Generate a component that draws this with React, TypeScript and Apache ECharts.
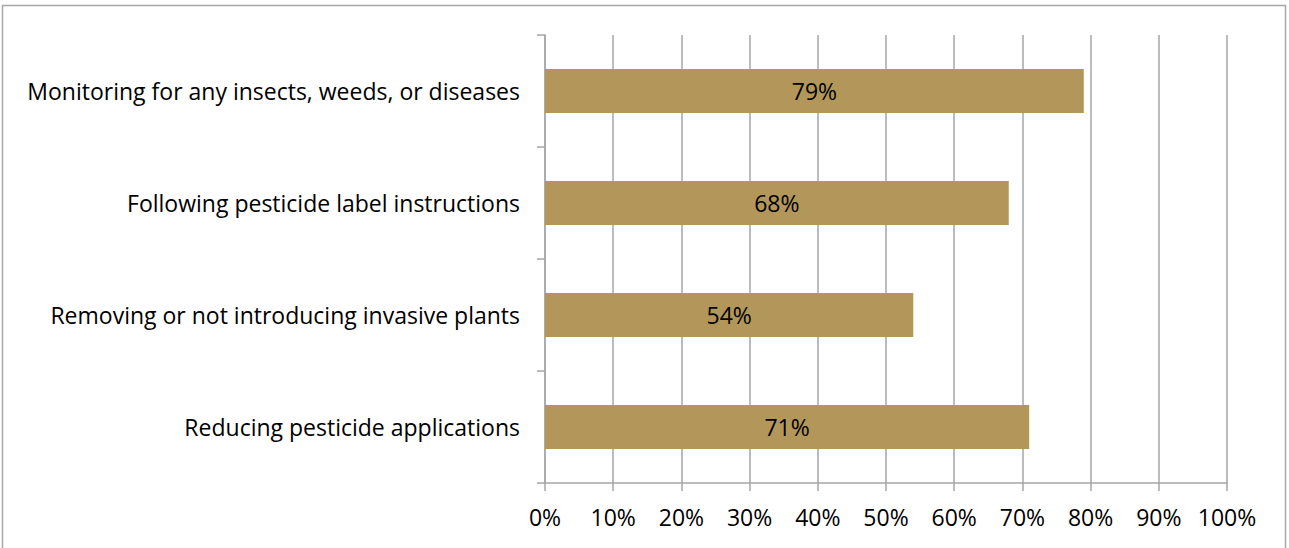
import React, { useEffect, useRef } from "react";
import * as echarts from "echarts";

const categories = [
  "Monitoring for any insects, weeds, or diseases",
  "Following pesticide label instructions",
  "Removing or not introducing invasive plants",
  "Reducing pesticide applications",
];
const values = [79, 68, 54, 71];
const xTicks = [0, 10, 20, 30, 40, 50, 60, 70, 80, 90, 100];

export default function App() {
  const ref = useRef<HTMLDivElement>(null);
  useEffect(() => {
    if (!ref.current) return;
    const chart = echarts.init(ref.current, undefined, { renderer: "svg" });
    const font = "'Open Sans', Lato, sans-serif";
    chart.setOption({
      animation: false,
      backgroundColor: "#ffffff",
      textStyle: { fontFamily: font },
      graphic: [
        {
          type: "rect",
          shape: { x: 2.5, y: 5.5, width: 1283, height: 560 },
          style: { fill: "none", stroke: "#A6A6A6", lineWidth: 1.5 },
          silent: true,
        },
      ],
      grid: { left: 545, right: 1289 - 1227, top: 35, bottom: 548 - 483, containLabel: false },
      xAxis: {
        type: "value",
        min: 0,
        max: 100,
        interval: 10,
        axisLine: { show: true, lineStyle: { color: "#A6A6A6", width: 1.5 } },
        axisTick: { show: true, length: 8, lineStyle: { color: "#A6A6A6", width: 1.5 } },
        splitLine: { show: true, lineStyle: { color: "#A6A6A6", width: 1.5 } },
        axisLabel: {
          color: "#000",
          fontSize: 23,
          fontFamily: font,
          margin: 22,
          formatter: (v: number) => (xTicks.includes(v) ? v + "%" : ""),
        },
      },
      yAxis: {
        type: "category",
        data: categories,
        inverse: true,
        axisLine: { show: true, lineStyle: { color: "#A6A6A6", width: 1.5 } },
        axisTick: { show: true, length: 8, lineStyle: { color: "#A6A6A6", width: 1.5 } },
        axisLabel: { color: "#000", fontSize: 23, fontFamily: font, margin: 25 },
      },
      series: [
        {
          type: "bar",
          data: values,
          barWidth: 44,
          itemStyle: { color: "#B3975A" },
          label: {
            show: true,
            position: "inside",
            color: "#000",
            fontSize: 23,
            fontFamily: font,
            formatter: (p: any) => p.value + "%",
          },
        },
      ],
    });
    return () => chart.dispose();
  }, []);
  return (
    <div
      ref={ref}
      style={{ position: "fixed", left: 0, top: 0, width: 1289, height: 548 }}
    />
  );
}
